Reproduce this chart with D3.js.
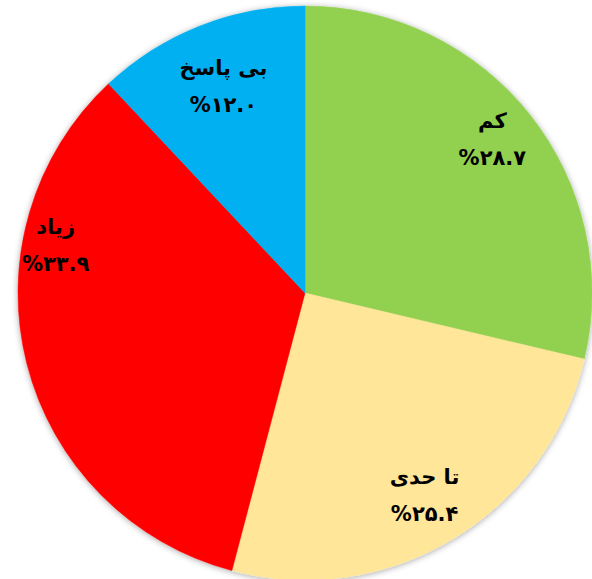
<!DOCTYPE html>
<html>
<head>
  <meta charset="utf-8">
  <style type="text/css">
    body { margin: 0; background: #fff; }
    svg { display: block; }
    .lbl { font-family: "DejaVu Sans", "Noto Sans", sans-serif; font-weight: bold; font-size: 21px; fill: #000; }
  </style>
</head>
<body>
<svg id='vis' width="592" height="579"></svg>

<script src="https://cdnjs.cloudflare.com/ajax/libs/d3/7.8.5/d3.min.js"></script>
<script type="text/javascript">
  // data, clockwise from 12 o'clock
  var categories = ['کم', 'تا حدی', 'زیاد', 'بی پاسخ']
  var values = [28.7, 25.4, 33.9, 12.0]
  var valueLabels = ['%۲۸.۷', '%۲۵.۴', '%۳۳.۹', '%۱۲.۰']
  var colors = ['#92D050', '#FFE699', '#FF0000', '#00B0F0']

  var svg = d3.select('#vis')
  var cx = 305, cy = 293, R = 287

  // excel "best fit" pushed the big red label up a bit
  var labelNudge = [[5, -9], [0, 4], [-24, -104], [4, 10]]

  var defs = svg.append('defs')
  var f = defs.append('filter').attr('id', 'shadow')
    .attr('x', '-10%').attr('y', '-10%').attr('width', '120%').attr('height', '120%')
  f.append('feDropShadow')
    .attr('dx', 0).attr('dy', 1).attr('stdDeviation', 3)
    .attr('flood-color', '#000').attr('flood-opacity', 0.35)

  var pie = d3.pie().sort(null).value(function(d) { return d })
  var arcs = pie(values)

  var arc = d3.arc().innerRadius(0).outerRadius(R)
  var labelArc = d3.arc().innerRadius(R * 0.81).outerRadius(R * 0.81)

  var g = svg.append('g').attr('transform', 'translate(' + cx + ',' + cy + ')')

  g.append('g').attr('filter', 'url(#shadow)')
    .selectAll('path')
    .data(arcs)
    .enter().append('path')
      .attr('d', arc)
      .attr('fill', function(d, i) { return colors[i] })
      .attr('stroke', function(d, i) { return colors[i] })
      .attr('stroke-width', 0.5)

  var lbl = g.selectAll('g.lab')
    .data(arcs)
    .enter().append('g')
      .attr('class', 'lab')
      .attr('transform', function(d, i) {
        var c = labelArc.centroid(d)
        return 'translate(' + (c[0] + labelNudge[i][0]) + ',' + (c[1] + labelNudge[i][1]) + ')'
      })

  lbl.append('text')
    .attr('class', 'lbl')
    .attr('text-anchor', 'middle')
    .attr('y', -12)
    .text(function(d, i) { return categories[i] })

  lbl.append('text')
    .attr('class', 'lbl')
    .attr('text-anchor', 'middle')
    .attr('y', 25)
    .text(function(d, i) { return valueLabels[i] })
</script>
</body>
</html>
